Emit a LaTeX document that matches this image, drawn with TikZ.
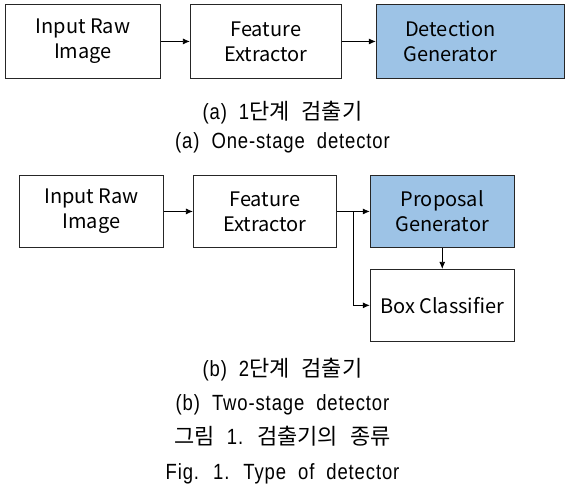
\documentclass[tikz,border=0pt]{standalone}
\usepackage{fontspec}
\setmainfont{Noto Sans CJK KR}
\newfontfamily\capfont[FakeStretch=0.84, LetterSpace=4]{Liberation Sans}
\newfontfamily\krfont{Noto Sans CJK KR}
\newcommand\hangul[1]{{\krfont #1}}
\usetikzlibrary{positioning,arrows.meta,calc}

\definecolor{genblue}{HTML}{9DC3E6}

\tikzset{
  block/.style={draw=black!85, line width=0.9pt, minimum height=74pt,
    inner sep=0pt, align=center, font=\fontsize{20}{25}\selectfont},
  genblock/.style={block, fill=genblue},
  caption/.style={inner sep=0pt, anchor=base,
    font=\capfont\fontsize{22}{26}\selectfont,
    execute at begin node={\spaceskip=12pt\relax}},
  flow/.style={-{Latex[length=7pt,width=6pt]}, line width=0.8pt},
}

\begin{document}
\begin{tikzpicture}[x=1pt,y=-1pt]
\useasboundingbox (0,0) rectangle (565,489);

% (a) one-stage
\node[block, minimum width=155pt, anchor=north west] (in_a) at (5,4) {Input Raw\\Image};
\node[block, minimum width=151pt] (fe_a) [right=29pt of in_a] {Feature\\Extractor};
% text sits left of the box centre here
\node[genblock, minimum width=188pt,
  label={[xshift=-20pt, align=center, font=\fontsize{20}{25}\selectfont]center:Detection\\Generator}]
  (dg_a) [right=34pt of fe_a] {};
\draw[flow] (in_a) -- (fe_a);
\draw[flow] (fe_a) -- (dg_a);

\node[caption] (cap_a_kr) at (282.5,120) {(a) 1\hangul{단계} \hangul{검출기}};
\node[caption] (cap_a_en) at (282.5,149) {(a) One-stage detector};

% (b) two-stage
\node[block, minimum width=144pt, minimum height=72pt, anchor=north west] (in_b) at (19,175) {Input Raw\\Image};
\node[block, minimum width=143pt, minimum height=72pt] (fe_b) [right=29pt of in_b] {Feature\\Extractor};
\node[genblock, minimum width=144pt, minimum height=72pt] (pg_b) [right=33pt of fe_b] {Proposal\\Generator};
\node[block, minimum width=144pt, minimum height=72pt] (bc_b) [below=21pt of pg_b] {Box Classifier};
\coordinate (split) at ($(fe_b.east)!0.5!(pg_b.west)$);
\draw[flow] (in_b) -- (fe_b);
\draw[flow] (fe_b) -- (pg_b);
\draw[flow] (split) |- (bc_b);
\draw[flow] (pg_b) -- (bc_b);

\node[caption] (cap_b_kr) at (282.5,376) {(b) 2\hangul{단계} \hangul{검출기}};
\node[caption] (cap_b_en) at (282.5,410) {(b) Two-stage detector};
\node[caption] (fig_kr) at (282.5,444) {\hangul{그림} 1. \hangul{검출기의} \hangul{종류}};
\node[caption] (fig_en) at (282.5,479) {Fig. 1. Type of detector};
\end{tikzpicture}
\end{document}
